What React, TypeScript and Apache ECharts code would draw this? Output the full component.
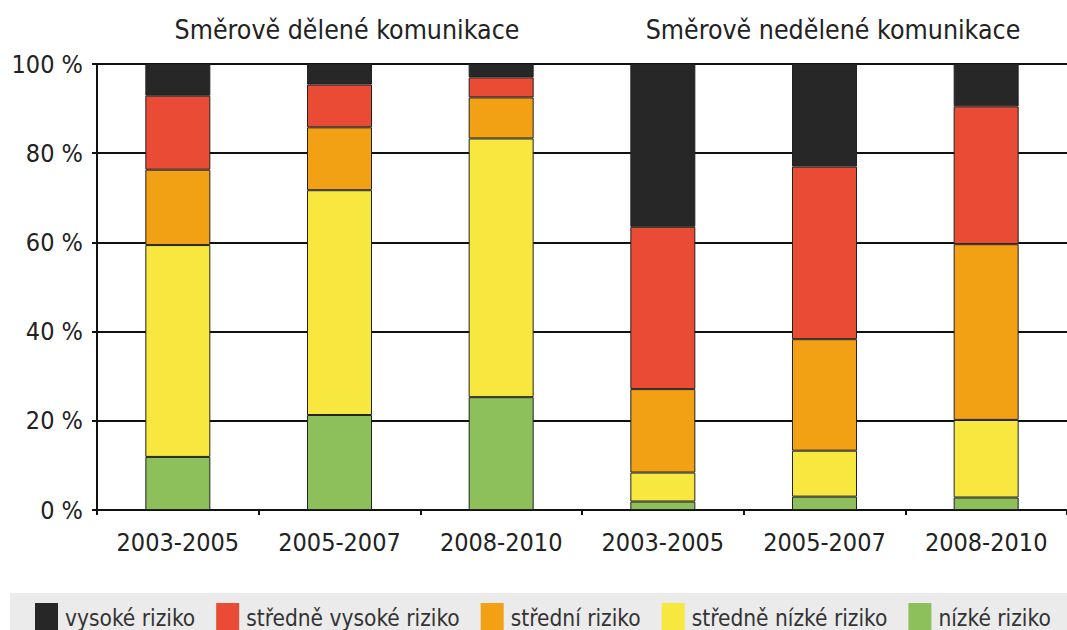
import React, { useEffect, useRef } from "react";
import * as echarts from "echarts";

const categories = ["2003-2005", "2005-2007", "2008-2010", "2003-2005", "2005-2007", "2008-2010"];
const groupTitles = ["Směrově dělené komunikace", "Směrově nedělené komunikace"];
const yTicks = [0, 20, 40, 60, 80, 100];

// stacked from bottom
const nizke = [11.9, 21.3, 25.3, 1.9, 3.0, 2.8];
const stredneNizke = [47.5, 50.4, 58.0, 6.5, 10.3, 17.4];
const stredni = [16.9, 14.1, 9.2, 18.7, 25.0, 39.4];
const stredneVysoke = [16.6, 9.6, 4.5, 36.4, 38.7, 30.9];
const vysoke = [7.1, 4.6, 3.0, 36.5, 23.0, 9.5];

const seriesDefs = [
  { name: "nízké riziko", data: nizke, color: "#8dc05a" },
  { name: "středně nízké riziko", data: stredneNizke, color: "#f8e73e" },
  { name: "střední riziko", data: stredni, color: "#f2a114" },
  { name: "středně vysoké riziko", data: stredneVysoke, color: "#e94b35" },
  { name: "vysoké riziko", data: vysoke, color: "#272727" },
];

const legendOrder = ["vysoké riziko", "středně vysoké riziko", "střední riziko", "středně nízké riziko", "nízké riziko"];

export default function App() {
  const ref = useRef<HTMLDivElement>(null);
  useEffect(() => {
    if (!ref.current) return;
    const chart = echarts.init(ref.current, null, { renderer: "svg" });
    const font = "'DejaVu Sans Condensed', 'DejaVu Sans', sans-serif";
    chart.setOption({
      animation: false,
      backgroundColor: "#ffffff",
      grid: { left: 97, right: -5, top: 64, bottom: 120, containLabel: false },
      title: [
        { text: groupTitles[0], left: 342, top: 11, textAlign: "center", textStyle: { fontFamily: font, fontSize: 26.5, fontWeight: "normal", color: "#222" } },
        { text: groupTitles[1], left: 828, top: 11, textAlign: "center", textStyle: { fontFamily: font, fontSize: 26.5, fontWeight: "normal", color: "#222" } },
      ],
      graphic: [
        { type: "rect", left: 10, top: 593, shape: { width: 1060, height: 37 }, style: { fill: "#ebebeb" }, z: -1 },
      ],
      legend: {
        data: legendOrder,
        left: 30,
        top: 598,
        width: 1400,
        itemWidth: 23,
        itemHeight: 29,
        itemGap: 21,
        icon: "rect",
        itemStyle: { borderWidth: 0 },
        textStyle: { fontFamily: font, fontSize: 22.5, color: "#333", padding: [0, 0, 0, 2] },
        selectedMode: false,
      },
      xAxis: {
        type: "category",
        data: categories,
        axisLine: { lineStyle: { color: "#111", width: 2 } },
        axisTick: { show: true, alignWithLabel: false, length: 5, lineStyle: { color: "#111", width: 2 } },
        axisLabel: { fontFamily: font, fontSize: 25, color: "#222", margin: 20 },
      },
      yAxis: {
        type: "value",
        min: 0,
        max: 100,
        interval: 20,
        axisLine: { show: true, lineStyle: { color: "#111", width: 2 } },
        axisTick: { show: true, length: 5, lineStyle: { color: "#111", width: 2 } },
        splitLine: { show: true, lineStyle: { color: "#111", width: 2 } },
        axisLabel: {
          fontFamily: font,
          fontSize: 25,
          color: "#222",
          margin: 14,
          formatter: (v: number) => (yTicks.includes(v) ? `${v} %` : ""),
        },
      },
      series: seriesDefs.map((s) => ({
        name: s.name,
        type: "bar",
        stack: "total",
        data: s.data,
        barWidth: 65,
        itemStyle: { color: s.color, borderColor: "#222", borderWidth: 1 },
      })),
    });
    return () => chart.dispose();
  }, []);
  return <div ref={ref} style={{ position: "fixed", left: 0, top: 0, width: 1067, height: 630 }} />;
}
